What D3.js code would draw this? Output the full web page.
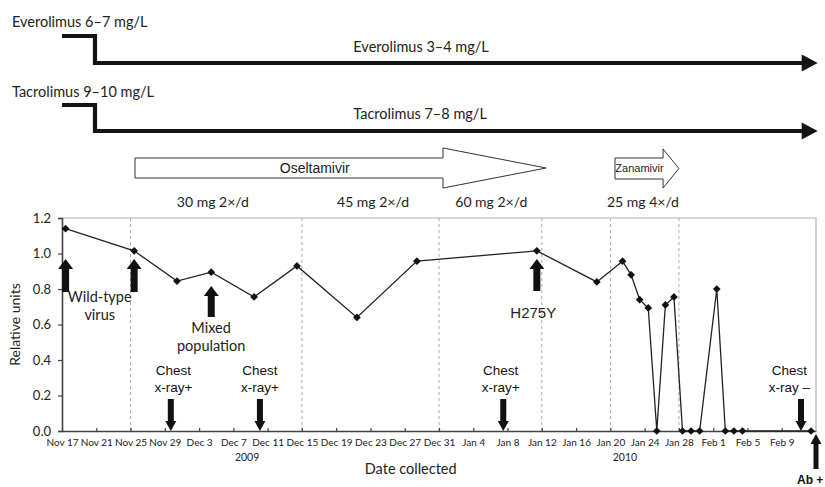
<!DOCTYPE html>
<html><head><meta charset="utf-8">
<script src="https://cdn.jsdelivr.net/npm/d3@7"></script>
<style>body{margin:0;background:#fff}svg{display:block}</style>
</head><body><svg id="c" width="825" height="487"></svg>
<script>
// ---- data ----
const dates = ["2009-11-17","2009-11-25","2009-11-30","2009-12-04","2009-12-09","2009-12-14","2009-12-21","2009-12-28","2010-01-11","2010-01-18","2010-01-21","2010-01-22","2010-01-23","2010-01-24","2010-01-25","2010-01-26","2010-01-27","2010-01-28","2010-01-29","2010-01-30","2010-02-01","2010-02-02","2010-02-03","2010-02-04","2010-02-12"];
const values = [1.14,1.015,0.845,0.895,0.755,0.93,0.64,0.957,1.015,0.84,0.957,0.88,0.74,0.693,0,0.71,0.755,0,0,0,0.80,0,0,0,0];
const tickDates = ["2009-11-17","2009-11-21","2009-11-25","2009-11-29","2009-12-03","2009-12-07","2009-12-11","2009-12-15","2009-12-19","2009-12-23","2009-12-27","2009-12-31","2010-01-04","2010-01-08","2010-01-12","2010-01-16","2010-01-20","2010-01-24","2010-01-28","2010-02-01","2010-02-05","2010-02-09"];
const tickLabels = ["Nov 17","Nov 21","Nov 25","Nov 29","Dec 3","Dec 7","Dec 11","Dec 15","Dec 19","Dec 23","Dec 27","Dec 31","Jan 4","Jan 8","Jan 12","Jan 16","Jan 20","Jan 24","Jan 28","Feb 1","Feb 5","Feb 9"];
const yTicks = [0,0.2,0.4,0.6,0.8,1.0,1.2];
const gridDates = ["2009-11-25","2009-12-15","2009-12-31","2010-01-12","2010-01-20","2010-01-28"];
const doseLabels = ["30 mg 2×/d","45 mg 2×/d","60 mg 2×/d","25 mg 4×/d"];
const doseDays = [17.6,36.3,50.1,67.8];
const chestDays = [12.7,23.1,51.5,86.25];
const chestLabelDays = [13.0,23.1,51.2,84.9];
const chestLabels = [["Chest","x-ray+"],["Chest","x-ray+"],["Chest","x-ray+"],["Chest","x-ray –"]];
const drugTop = [{label:"Everolimus 6–7 mg/L", after:"Everolimus 3–4 mg/L"},{label:"Tacrolimus 9–10 mg/L", after:"Tacrolimus 7–8 mg/L"}];

// ---- setup ----
const svg = d3.select("#c");
const parse = d3.utcParse("%Y-%m-%d");
const DAY = 864e5;
const t0 = parse("2009-11-17"), t1 = parse("2010-02-13");
const x = d3.scaleUtc().domain([t0,t1]).range([62,816]);
const y = d3.scaleLinear().domain([0,1.2]).range([431,218]);
const xd = d => x(new Date(t0.getTime() + d*DAY));
const sampleOffset = 0.42; // collection time within the day
const pts = dates.map((d,i)=>({t:new Date(parse(d).getTime()+sampleOffset*DAY), v:values[i]}));
const CAL = "Lato, 'Open Sans', sans-serif";
const ARI = "'Liberation Sans', Arial, sans-serif";

// ---- top drug level timelines ----
const stepY = [[36,63],[105,131]];
const labY = [27,97];
const afterY = [52,119];
drugTop.forEach((dr,i)=>{
  const [ya,yb] = stepY[i];
  const xs = xd(0), xstep = xd(3.85), xend = xd(88.2);
  svg.append("path").attr("d",`M${xs},${ya}H${xstep}V${yb}H${xend-14}`)
    .attr("fill","none").attr("stroke","#141414").attr("stroke-width",4.2).attr("stroke-linejoin","miter");
  svg.append("path").attr("d",`M${xend-16},${yb-8.5}L${xend},${yb}L${xend-16},${yb+8.5}Z`).attr("fill","#141414");
  svg.append("text").attr("x",12).attr("y",labY[i]).attr("font-family",CAL).attr("font-size",14.5).attr("fill","#222").text(dr.label);
  svg.append("text").attr("x",xd(34.0)).attr("y",afterY[i]).attr("font-family",CAL).attr("font-size",14.5).attr("fill","#222").text(dr.after);
});

// ---- antiviral block arrows ----
function blockArrow(a,b,c,top,bot,htop,hbot){
  const mid=(top+bot)/2;
  return `M${a},${top}H${b}V${htop}L${c},${mid}L${b},${hbot}V${bot}H${a}Z`;
}
svg.append("path").attr("d",blockArrow(xd(8.52),xd(44.47),xd(56.5),158,178,148,188))
  .attr("fill","#fff").attr("stroke","#333").attr("stroke-width",1);
svg.append("text").attr("x",xd(29.5)).attr("y",173).attr("text-anchor","middle")
  .attr("font-family",ARI).attr("font-size",14).attr("fill","#222").text("Oseltamivir");
svg.append("path").attr("d",blockArrow(xd(64.54),xd(70.15),xd(72.0),158,179,149,188))
  .attr("fill","#fff").attr("stroke","#333").attr("stroke-width",1);
svg.append("text").attr("x",xd(67.4)).attr("y",172).attr("text-anchor","middle")
  .attr("font-family",ARI).attr("font-size",11).attr("fill","#222").text("Zanamivir");

// dose labels
svg.selectAll("text.dose").data(doseLabels).join("text").attr("class","dose")
  .attr("x",(d,i)=>xd(doseDays[i])).attr("y",207).attr("text-anchor","middle")
  .attr("font-family",CAL).attr("font-size",14).attr("fill","#222").text(d=>d);

// ---- plot frame & grid ----
svg.append("path").attr("d",`M${x.range()[0]},${y(1.2)}H${x.range()[1]}V${y(0)}`)
  .attr("fill","none").attr("stroke","#b5b5b5").attr("stroke-width",1.2);
svg.selectAll("line.grid").data(gridDates).join("line").attr("class","grid")
  .attr("x1",d=>x(parse(d))).attr("x2",d=>x(parse(d))).attr("y1",y(1.2)).attr("y2",y(0))
  .attr("stroke","#aaa").attr("stroke-width",1).attr("stroke-dasharray","3,3");

// axes
const yAxis = svg.append("g").attr("transform",`translate(${x.range()[0]},0)`)
  .call(d3.axisLeft(y).tickValues(yTicks).tickFormat(d3.format(".1f")).tickSize(4).tickPadding(7));
yAxis.select(".domain").attr("stroke","#444").attr("stroke-width",1.6);
yAxis.selectAll(".tick line").attr("stroke","#444").attr("stroke-width",1.2);
yAxis.selectAll("text").attr("font-family",CAL).attr("font-size",13).attr("fill","#222");

const xAxis = svg.append("g").attr("transform",`translate(0,${y(0)})`)
  .call(d3.axisBottom(x).tickValues(tickDates.map(parse)).tickFormat((d,i)=>tickLabels[i]).tickSize(-3).tickSizeOuter(0).tickPadding(8));
xAxis.select(".domain").attr("stroke","#444").attr("stroke-width",1.6);
xAxis.selectAll(".tick line").attr("stroke","#444").attr("stroke-width",1.2);
xAxis.selectAll("text").attr("font-family",CAL).attr("font-size",10).attr("fill","#222");

svg.append("text").attr("x",xd(21.6)).attr("y",461).attr("text-anchor","middle").attr("font-family",CAL).attr("font-size",10.5).attr("fill","#222").text("2009");
svg.append("text").attr("x",xd(65.7)).attr("y",461).attr("text-anchor","middle").attr("font-family",CAL).attr("font-size",10.5).attr("fill","#222").text("2010");
svg.append("text").attr("x",xd(40.7)).attr("y",474).attr("text-anchor","middle").attr("font-family",CAL).attr("font-size",14.5).attr("fill","#222").text("Date collected");
svg.append("text").attr("transform",`translate(20,${(y(0)+y(1.2))/2}) rotate(-90)`).attr("text-anchor","middle")
  .attr("font-family",CAL).attr("font-size",14).attr("fill","#222").text("Relative units");

// ---- data line & markers ----
const line = d3.line().x(d=>x(d.t)).y(d=>y(d.v));
svg.append("path").datum(pts).attr("d",line).attr("fill","none").attr("stroke","#222").attr("stroke-width",1.3);
svg.selectAll("path.pt").data(pts).join("path").attr("class","pt")
  .attr("d",d3.symbol(d3.symbolSquare,30)())
  .attr("transform",d=>`translate(${x(d.t)},${y(d.v)}) rotate(45)`).attr("fill","#111");

// ---- annotation arrows ----
function arrow(cx,tip,base,sw,hw,hh){
  const dir = base>tip?1:-1;
  const hb = tip+dir*hh;
  return `M${cx},${tip}L${cx+hw/2},${hb}L${cx+sw/2},${hb}L${cx+sw/2},${base}L${cx-sw/2},${base}L${cx-sw/2},${hb}L${cx-hw/2},${hb}Z`;
}
const upArrows = [{i:0,tip:259,base:292},{i:1,tip:259,base:292},{i:3,tip:286,base:317},{i:8,tip:259,base:291}];
upArrows.forEach(a=>{
  svg.append("path").attr("d",arrow(x(pts[a.i].t),a.tip,a.base,7,15,10)).attr("fill","#111");
});
svg.append("text").attr("x",xd(4.4)).attr("y",302).attr("text-anchor","middle").attr("font-family",CAL).attr("font-size",14.5).attr("fill","#222").text("Wild-type");
svg.append("text").attr("x",xd(4.4)).attr("y",320).attr("text-anchor","middle").attr("font-family",CAL).attr("font-size",14.5).attr("fill","#222").text("virus");
svg.append("text").attr("x",xd(17.4)).attr("y",333).attr("text-anchor","middle").attr("font-family",CAL).attr("font-size",14.5).attr("fill","#222").text("Mixed");
svg.append("text").attr("x",xd(17.4)).attr("y",351).attr("text-anchor","middle").attr("font-family",CAL).attr("font-size",14.5).attr("fill","#222").text("population");
svg.append("text").attr("x",xd(55.0)).attr("y",318).attr("text-anchor","middle").attr("font-family",ARI).attr("font-size",15).attr("fill","#222").text("H275Y");

chestDays.forEach((d,i)=>{
  svg.append("path").attr("d",arrow(xd(d),y(0),399,6,11,10)).attr("fill","#111");
  svg.append("text").attr("x",xd(chestLabelDays[i])).attr("y",375).attr("text-anchor","middle").attr("font-family",ARI).attr("font-size",13.5).attr("fill","#111").text(chestLabels[i][0]);
  svg.append("text").attr("x",xd(chestLabelDays[i])).attr("y",392).attr("text-anchor","middle").attr("font-family",ARI).attr("font-size",13.5).attr("fill","#111").text(chestLabels[i][1]);
});
// antibody arrow
svg.append("path").attr("d",arrow(xd(88.0),434,469,5,11,10)).attr("fill","#111");
svg.append("text").attr("x",797).attr("y",484).attr("font-family",ARI).attr("font-weight","bold").attr("font-size",12).attr("fill","#111").text("Ab +");
</script></body></html>
